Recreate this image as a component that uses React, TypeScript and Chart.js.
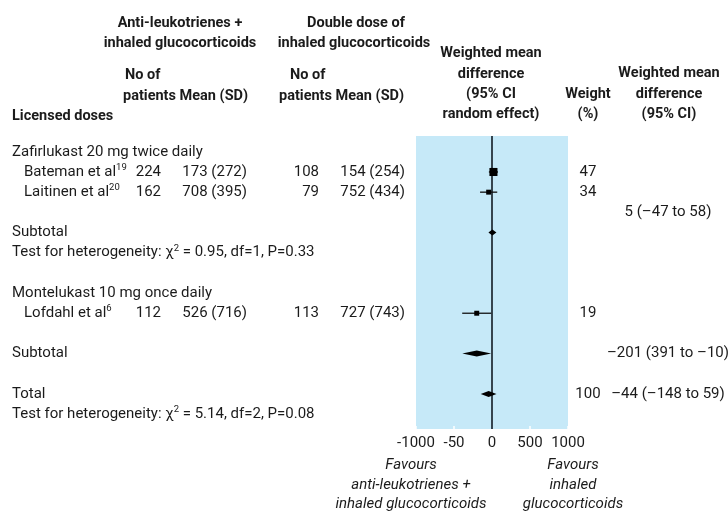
import React, { useEffect, useRef } from "react";
import { Chart, registerables } from "chart.js";
Chart.register(...registerables);

const W = 728;
const H = 513;

// ---- data ----
const studyNames = ["Bateman et al", "Laitinen et al", "Lofdahl et al"];
const studyRefs = ["19", "20", "6"];
const nTreat = [224, 162, 112];
const meanTreat = [173, 708, 526];
const sdTreat = [272, 395, 716];
const nCtrl = [108, 79, 113];
const meanCtrl = [154, 752, 727];
const sdCtrl = [254, 434, 743];
const studyWMD = [19, -44, -201];
const studyLow = [-41, -157, -392];
const studyHigh = [79, 69, -10];
const studyWeight = [47, 34, 19];
const studyRows = [1, 2, 8];

const pooledWMD = [5, -201, -44];
const pooledLow = [-47, -391, -148];
const pooledHigh = [58, -10, 59];
const pooledRows = [4, 10, 12];
const pooledText = ["5 (\u201347 to 58)", "\u2013201 (391 to \u201310)", "\u201344 (\u2013148 to 59)"];
const pooledTextRows = [3, 10, 12];
const totalWeight = "100";
const totalWeightRow = 12;

const groupLabels = [
  "Zafirlukast 20 mg twice daily",
  "Subtotal",
  "HET:0.95:1:0.33",
  "Montelukast 10 mg once daily",
  "Subtotal",
  "Total",
  "HET:5.14:2:0.08",
];
const groupRows = [0, 4, 5, 7, 10, 12, 13];

const xTicks = [-1000, -500, 0, 500, 1000];
const xTickLabels = ["-1000", "-50", "0", "500", "1000"];

// ---- styling ----
const FONT = "Roboto, 'Liberation Sans', Arial, sans-serif";
const BODY = `15px ${FONT}`;
const BOLD = `bold 14.5px ${FONT}`;
const ITAL = `italic 15px ${FONT}`;
const SUP = `9.5px ${FONT}`;
const TXT = "#1b1b1b";

type Seg = { t: string; sup?: boolean };

function drawRich(ctx: CanvasRenderingContext2D, segs: Seg[], x: number, y: number, align: "left" | "right" | "center") {
  let total = 0;
  const widths = segs.map((s) => {
    ctx.font = s.sup ? SUP : BODY;
    const w = ctx.measureText(s.t).width;
    total += w;
    return w;
  });
  let cx = align === "left" ? x : align === "right" ? x - total : x - total / 2;
  ctx.textAlign = "left";
  segs.forEach((s, i) => {
    ctx.font = s.sup ? SUP : BODY;
    ctx.fillText(s.t, cx, s.sup ? y - 4.5 : y);
    cx += widths[i];
  });
}

const forestPlugin = {
  id: "forest",
  beforeDatasetsDraw(chart: any) {
    const { ctx, chartArea: a, scales } = chart;
    ctx.save();
    ctx.fillStyle = "#c6e9f8";
    ctx.fillRect(a.left, a.top, a.right - a.left, a.bottom - a.top);
    // inner tick marks
    ctx.strokeStyle = "#ffffff";
    ctx.lineWidth = 1.5;
    xTicks.forEach((v) => {
      if (v === 0) return;
      const px = scales.x.getPixelForValue(v);
      ctx.beginPath();
      ctx.moveTo(px, a.bottom - 3);
      ctx.lineTo(px, a.bottom);
      ctx.stroke();
    });
    // zero line
    const zx = scales.x.getPixelForValue(0);
    ctx.strokeStyle = "#36454f";
    ctx.lineWidth = 2;
    ctx.beginPath();
    ctx.moveTo(zx, a.top);
    ctx.lineTo(zx, a.bottom);
    ctx.stroke();
    ctx.restore();
  },
  afterDatasetsDraw(chart: any) {
    const { ctx, scales } = chart;
    ctx.save();
    ctx.fillStyle = "#000";
    pooledWMD.forEach((m, i) => {
      const y = scales.y.getPixelForValue(pooledRows[i]);
      const xl = scales.x.getPixelForValue(pooledLow[i]);
      const xh = scales.x.getPixelForValue(pooledHigh[i]);
      const xm = scales.x.getPixelForValue(m);
      ctx.beginPath();
      ctx.moveTo(xl, y);
      ctx.lineTo(xm, y - 3);
      ctx.lineTo(xh, y);
      ctx.lineTo(xm, y + 3);
      ctx.closePath();
      ctx.fill();
    });
    ctx.restore();
  },
  afterDraw(chart: any) {
    const { ctx, scales } = chart;
    const ry = (r: number) => scales.y.getPixelForValue(r);
    ctx.save();
    ctx.fillStyle = TXT;
    ctx.textBaseline = "middle";

    // headers
    ctx.font = BOLD;
    ctx.textAlign = "center";
    ctx.fillText("Anti-leukotrienes +", 180, 23);
    ctx.fillText("inhaled glucocorticoids", 180, 43);
    ctx.fillText("Double dose of", 356, 23);
    ctx.fillText("inhaled glucocorticoids", 354, 43);
    ctx.textAlign = "left";
    ctx.fillText("No of", 125, 75);
    ctx.fillText("patients Mean (SD)", 123, 96);
    ctx.fillText("No of", 290, 75);
    ctx.fillText("patients Mean (SD)", 279, 96);
    ctx.fillText("Licensed doses", 12, 116);
    ctx.textAlign = "center";
    ctx.fillText("Weighted mean", 491, 53);
    ctx.fillText("difference", 491, 74);
    ctx.fillText("(95% CI", 491, 94);
    ctx.fillText("random effect)", 491, 114);
    ctx.fillText("Weight", 588, 94);
    ctx.fillText("(%)", 588, 114);
    ctx.fillText("Weighted mean", 669, 73);
    ctx.fillText("difference", 669, 94);
    ctx.fillText("(95% CI)", 669, 114);

    // group labels
    groupLabels.forEach((g, i) => {
      const y = ry(groupRows[i]);
      if (g.startsWith("HET:")) {
        const [, chi, df, p] = g.split(":");
        drawRich(ctx, [
          { t: "Test for heterogeneity: \u03c7" },
          { t: "2", sup: true },
          { t: ` = ${chi}, df=${df}, P=${p}` },
        ], 12, y, "left");
      } else {
        drawRich(ctx, [{ t: g }], 12, y, "left");
      }
    });

    // study rows
    studyNames.forEach((n, i) => {
      const y = ry(studyRows[i]);
      drawRich(ctx, [{ t: n }, { t: studyRefs[i], sup: true }], 24, y, "left");
      ctx.font = BODY;
      ctx.textAlign = "right";
      ctx.fillText(String(nTreat[i]), 161, y);
      ctx.fillText(`${meanTreat[i]} (${sdTreat[i]})`, 247, y);
      ctx.fillText(String(nCtrl[i]), 319, y);
      ctx.fillText(`${meanCtrl[i]} (${sdCtrl[i]})`, 405, y);
      ctx.textAlign = "center";
      ctx.fillText(String(studyWeight[i]), 588, y);
    });

    ctx.font = BODY;
    ctx.textAlign = "center";
    ctx.fillText(totalWeight, 588, ry(totalWeightRow));
    pooledText.forEach((t, i) => {
      ctx.fillText(t, 668, ry(pooledTextRows[i]));
    });

    // x tick labels
    xTicks.forEach((v, i) => {
      ctx.fillText(xTickLabels[i], scales.x.getPixelForValue(v), 443);
    });

    // favours labels
    ctx.font = ITAL;
    ctx.fillText("Favours", 411, 465);
    ctx.fillText("anti-leukotrienes +", 411, 485);
    ctx.fillText("inhaled glucocorticoids", 411, 504);
    ctx.fillText("Favours", 573, 465);
    ctx.fillText("inhaled", 573, 485);
    ctx.fillText("glucocorticoids", 573, 504);
    ctx.restore();
  },
};

export default function App() {
  const ref = useRef<HTMLCanvasElement>(null);
  useEffect(() => {
    document.body.style.margin = "0";
    const canvas = ref.current!;
    const ciSets = studyWMD.map((_, i) => ({
      type: "line" as const,
      data: [
        { x: studyLow[i], y: studyRows[i] },
        { x: studyHigh[i], y: studyRows[i] },
      ],
      showLine: true,
      borderColor: "#111",
      borderWidth: 1.3,
      pointRadius: 0,
      fill: false,
    }));
    const chart = new Chart(canvas, {
      type: "scatter",
      data: {
        datasets: [
          {
            type: "scatter",
            data: studyWMD.map((m, i) => ({ x: m, y: studyRows[i] })),
            pointStyle: "rect",
            pointRadius: [5.7, 3.5, 3.5],
            backgroundColor: "#000",
            borderWidth: 0,
            order: 0,
          } as any,
          ...ciSets.map((d) => ({ ...d, order: 1 })),
        ],
      },
      options: {
        animation: false,
        responsive: false,
        maintainAspectRatio: false,
        events: [],
        layout: { padding: { left: 416, right: 160, top: 136, bottom: 84 } },
        scales: {
          x: { type: "linear", min: -1000, max: 1000, display: false },
          y: { type: "linear", min: -0.783, max: 13.737, reverse: true, display: false },
        },
        plugins: { legend: { display: false }, tooltip: { enabled: false } },
      },
      plugins: [forestPlugin],
    });
    return () => chart.destroy();
  }, []);
  return <canvas ref={ref} width={W} height={H} style={{ display: "block" }} />;
}
